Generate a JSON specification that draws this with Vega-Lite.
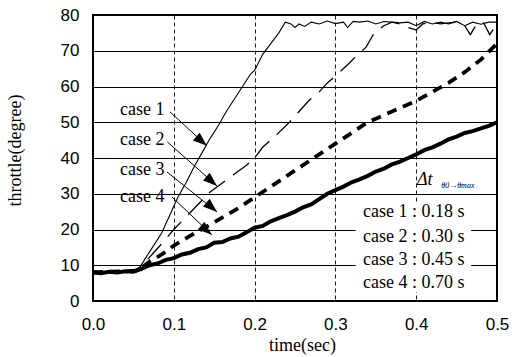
{
  "$schema": "https://vega.github.io/schema/vega-lite/v6.json",
  "width": 404,
  "height": 286,
  "autosize": {"type": "none"},
  "padding": {"left": 93, "top": 15, "right": 15, "bottom": 56},
  "background": "white",
  "config": {
    "view": {"stroke": "black", "strokeWidth": 2},
    "axis": {"labelColor": "black", "titleColor": "black", "domain": false, "ticks": false, "gridColor": "black", "gridOpacity": 1, "labelOverlap": false}
  },
  "datasets": {
    "series": [
      {"c": "case 1", "t": 0.0, "v": 8.5}, {"c": "case 1", "t": 0.01, "v": 8.0}, {"c": "case 1", "t": 0.02, "v": 8.3}, {"c": "case 1", "t": 0.03, "v": 8.0}, {"c": "case 1", "t": 0.04, "v": 8.4}, {"c": "case 1", "t": 0.05, "v": 8.5},
      {"c": "case 1", "t": 0.058, "v": 9.5}, {"c": "case 1", "t": 0.065, "v": 12}, {"c": "case 1", "t": 0.075, "v": 15.5}, {"c": "case 1", "t": 0.085, "v": 19}, {"c": "case 1", "t": 0.095, "v": 24},
      {"c": "case 1", "t": 0.105, "v": 29}, {"c": "case 1", "t": 0.115, "v": 33}, {"c": "case 1", "t": 0.125, "v": 37.5}, {"c": "case 1", "t": 0.135, "v": 41.5}, {"c": "case 1", "t": 0.145, "v": 45.5},
      {"c": "case 1", "t": 0.155, "v": 49}, {"c": "case 1", "t": 0.165, "v": 53}, {"c": "case 1", "t": 0.175, "v": 56.5}, {"c": "case 1", "t": 0.185, "v": 60}, {"c": "case 1", "t": 0.195, "v": 63.5},
      {"c": "case 1", "t": 0.2, "v": 64.5}, {"c": "case 1", "t": 0.21, "v": 69}, {"c": "case 1", "t": 0.22, "v": 72}, {"c": "case 1", "t": 0.23, "v": 75}, {"c": "case 1", "t": 0.238, "v": 78},
      {"c": "case 1", "t": 0.245, "v": 77.5}, {"c": "case 1", "t": 0.25, "v": 76.5}, {"c": "case 1", "t": 0.255, "v": 77.5}, {"c": "case 1", "t": 0.262, "v": 76.8}, {"c": "case 1", "t": 0.27, "v": 78},
      {"c": "case 1", "t": 0.28, "v": 77.5}, {"c": "case 1", "t": 0.29, "v": 78.3}, {"c": "case 1", "t": 0.3, "v": 77.6}, {"c": "case 1", "t": 0.31, "v": 78}, {"c": "case 1", "t": 0.315, "v": 76.5},
      {"c": "case 1", "t": 0.322, "v": 78.2}, {"c": "case 1", "t": 0.33, "v": 78}, {"c": "case 1", "t": 0.34, "v": 78.3}, {"c": "case 1", "t": 0.35, "v": 77.5}, {"c": "case 1", "t": 0.36, "v": 78.2},
      {"c": "case 1", "t": 0.37, "v": 78}, {"c": "case 1", "t": 0.38, "v": 77.8}, {"c": "case 1", "t": 0.39, "v": 78}, {"c": "case 1", "t": 0.4, "v": 77}, {"c": "case 1", "t": 0.41, "v": 78.2},
      {"c": "case 1", "t": 0.42, "v": 77.5}, {"c": "case 1", "t": 0.43, "v": 78}, {"c": "case 1", "t": 0.44, "v": 77.5}, {"c": "case 1", "t": 0.45, "v": 78.2}, {"c": "case 1", "t": 0.46, "v": 77},
      {"c": "case 1", "t": 0.47, "v": 78}, {"c": "case 1", "t": 0.48, "v": 77.4}, {"c": "case 1", "t": 0.49, "v": 78}, {"c": "case 1", "t": 0.5, "v": 78},

      {"c": "case 2", "t": 0.0, "v": 8}, {"c": "case 2", "t": 0.03, "v": 8.2}, {"c": "case 2", "t": 0.055, "v": 8.5}, {"c": "case 2", "t": 0.065, "v": 11}, {"c": "case 2", "t": 0.075, "v": 13.5},
      {"c": "case 2", "t": 0.085, "v": 16}, {"c": "case 2", "t": 0.1, "v": 20}, {"c": "case 2", "t": 0.115, "v": 23.5}, {"c": "case 2", "t": 0.13, "v": 27}, {"c": "case 2", "t": 0.145, "v": 30.5},
      {"c": "case 2", "t": 0.16, "v": 33}, {"c": "case 2", "t": 0.175, "v": 35.5}, {"c": "case 2", "t": 0.19, "v": 38}, {"c": "case 2", "t": 0.2, "v": 40}, {"c": "case 2", "t": 0.21, "v": 43},
      {"c": "case 2", "t": 0.225, "v": 46}, {"c": "case 2", "t": 0.243, "v": 50}, {"c": "case 2", "t": 0.255, "v": 53}, {"c": "case 2", "t": 0.267, "v": 56}, {"c": "case 2", "t": 0.28, "v": 58.5},
      {"c": "case 2", "t": 0.29, "v": 61}, {"c": "case 2", "t": 0.303, "v": 63.5}, {"c": "case 2", "t": 0.317, "v": 66.5}, {"c": "case 2", "t": 0.328, "v": 69}, {"c": "case 2", "t": 0.338, "v": 71},
      {"c": "case 2", "t": 0.348, "v": 75}, {"c": "case 2", "t": 0.36, "v": 77}, {"c": "case 2", "t": 0.37, "v": 78}, {"c": "case 2", "t": 0.38, "v": 77.5}, {"c": "case 2", "t": 0.39, "v": 76.5},
      {"c": "case 2", "t": 0.4, "v": 75.8}, {"c": "case 2", "t": 0.408, "v": 77.5}, {"c": "case 2", "t": 0.42, "v": 78}, {"c": "case 2", "t": 0.43, "v": 77.5}, {"c": "case 2", "t": 0.44, "v": 77.8},
      {"c": "case 2", "t": 0.45, "v": 78}, {"c": "case 2", "t": 0.46, "v": 77}, {"c": "case 2", "t": 0.467, "v": 74.5}, {"c": "case 2", "t": 0.475, "v": 77.5}, {"c": "case 2", "t": 0.483, "v": 78},
      {"c": "case 2", "t": 0.491, "v": 74.5}, {"c": "case 2", "t": 0.5, "v": 77.5},

      {"c": "case 3", "t": 0.0, "v": 8}, {"c": "case 3", "t": 0.055, "v": 8.5}, {"c": "case 3", "t": 0.07, "v": 11}, {"c": "case 3", "t": 0.085, "v": 13}, {"c": "case 3", "t": 0.1, "v": 15.5},
      {"c": "case 3", "t": 0.115, "v": 17.5}, {"c": "case 3", "t": 0.13, "v": 19.5}, {"c": "case 3", "t": 0.15, "v": 22}, {"c": "case 3", "t": 0.165, "v": 24}, {"c": "case 3", "t": 0.18, "v": 26},
      {"c": "case 3", "t": 0.2, "v": 29}, {"c": "case 3", "t": 0.22, "v": 32}, {"c": "case 3", "t": 0.24, "v": 35}, {"c": "case 3", "t": 0.26, "v": 38}, {"c": "case 3", "t": 0.28, "v": 41},
      {"c": "case 3", "t": 0.3, "v": 44}, {"c": "case 3", "t": 0.32, "v": 47}, {"c": "case 3", "t": 0.34, "v": 50}, {"c": "case 3", "t": 0.36, "v": 52}, {"c": "case 3", "t": 0.38, "v": 54},
      {"c": "case 3", "t": 0.4, "v": 56}, {"c": "case 3", "t": 0.42, "v": 58.5}, {"c": "case 3", "t": 0.44, "v": 61}, {"c": "case 3", "t": 0.46, "v": 64}, {"c": "case 3", "t": 0.48, "v": 67.5},
      {"c": "case 3", "t": 0.5, "v": 72},

      {"c": "case 4", "t": 0.0, "v": 8}, {"c": "case 4", "t": 0.01, "v": 7.8}, {"c": "case 4", "t": 0.02, "v": 8.2}, {"c": "case 4", "t": 0.03, "v": 8}, {"c": "case 4", "t": 0.04, "v": 8.3},
      {"c": "case 4", "t": 0.05, "v": 8.2}, {"c": "case 4", "t": 0.06, "v": 9}, {"c": "case 4", "t": 0.07, "v": 10}, {"c": "case 4", "t": 0.08, "v": 10.5}, {"c": "case 4", "t": 0.09, "v": 11.5},
      {"c": "case 4", "t": 0.1, "v": 12}, {"c": "case 4", "t": 0.11, "v": 13}, {"c": "case 4", "t": 0.12, "v": 13.5}, {"c": "case 4", "t": 0.13, "v": 14.5}, {"c": "case 4", "t": 0.14, "v": 15},
      {"c": "case 4", "t": 0.15, "v": 16.3}, {"c": "case 4", "t": 0.16, "v": 16.5}, {"c": "case 4", "t": 0.17, "v": 17.5}, {"c": "case 4", "t": 0.18, "v": 18}, {"c": "case 4", "t": 0.19, "v": 19.2},
      {"c": "case 4", "t": 0.2, "v": 20.5}, {"c": "case 4", "t": 0.21, "v": 21}, {"c": "case 4", "t": 0.22, "v": 22.3}, {"c": "case 4", "t": 0.23, "v": 23.2}, {"c": "case 4", "t": 0.24, "v": 24},
      {"c": "case 4", "t": 0.25, "v": 25}, {"c": "case 4", "t": 0.26, "v": 26.2}, {"c": "case 4", "t": 0.27, "v": 27}, {"c": "case 4", "t": 0.28, "v": 28.5}, {"c": "case 4", "t": 0.29, "v": 30},
      {"c": "case 4", "t": 0.3, "v": 31}, {"c": "case 4", "t": 0.31, "v": 32}, {"c": "case 4", "t": 0.32, "v": 33.2}, {"c": "case 4", "t": 0.33, "v": 34}, {"c": "case 4", "t": 0.34, "v": 35},
      {"c": "case 4", "t": 0.35, "v": 36.2}, {"c": "case 4", "t": 0.36, "v": 37}, {"c": "case 4", "t": 0.37, "v": 38.2}, {"c": "case 4", "t": 0.38, "v": 39}, {"c": "case 4", "t": 0.39, "v": 40},
      {"c": "case 4", "t": 0.4, "v": 41}, {"c": "case 4", "t": 0.41, "v": 42.2}, {"c": "case 4", "t": 0.42, "v": 43}, {"c": "case 4", "t": 0.43, "v": 44}, {"c": "case 4", "t": 0.44, "v": 45.2},
      {"c": "case 4", "t": 0.45, "v": 46}, {"c": "case 4", "t": 0.46, "v": 47}, {"c": "case 4", "t": 0.47, "v": 47.5}, {"c": "case 4", "t": 0.48, "v": 48.3}, {"c": "case 4", "t": 0.49, "v": 49},
      {"c": "case 4", "t": 0.5, "v": 50}
    ],
    "labels": [
      {"t": 0.061, "v": 53.4, "label": "case 1"},
      {"t": 0.061, "v": 45.0, "label": "case 2"},
      {"t": 0.061, "v": 36.6, "label": "case 3"},
      {"t": 0.061, "v": 29.1, "label": "case 4"}
    ],
    "arrows": [
      {"t": 0.0953, "v": 52.9, "t2": 0.141, "v2": 43.4},
      {"t": 0.092, "v": 44.5, "t2": 0.1535, "v2": 32.2},
      {"t": 0.0916, "v": 36.1, "t2": 0.1535, "v2": 24.9},
      {"t": 0.0978, "v": 29.1, "t2": 0.147, "v2": 18.5}
    ],
    "heads": [
      {"t": 0.141, "v": 43.4},
      {"t": 0.1535, "v": 32.2},
      {"t": 0.1535, "v": 24.9},
      {"t": 0.147, "v": 18.5}
    ],
    "box": [{"t": 0.325, "t2": 0.468, "v": 2.5, "v2": 27.5}],
    "legend": [
      {"t": 0.397, "v": 24.9, "label": "case 1 : 0.18 s"},
      {"t": 0.397, "v": 17.9, "label": "case 2 : 0.30 s"},
      {"t": 0.397, "v": 11.5, "label": "case 3 : 0.45 s"},
      {"t": 0.397, "v": 5.0, "label": "case 4 : 0.70 s"}
    ],
    "dt": [{"t": 0.401, "v": 33.8, "label": "Δt"}],
    "dtsub": [{"t": 0.431, "v": 32.2, "label": "θ0→θmax"}]
  },
  "encoding": {
    "x": {"field": "t", "type": "quantitative", "scale": {"domain": [0, 0.5], "nice": false, "zero": false},
      "axis": {"title": "time(sec)", "values": [0, 0.1, 0.2, 0.3, 0.4, 0.5], "tickCount": 12, "format": ".1f",
        "labelFont": "Liberation Sans", "labelFontSize": 17, "labelPadding": 15, "labelFlush": false,
        "grid": true, "gridDash": [4, 3], "gridWidth": 0.9,
        "titleFont": "Liberation Serif", "titleFontSize": 18, "titleFontWeight": "normal",
        "titleX": 209, "titleY": 44, "titleBaseline": "middle"}},
    "y": {"field": "v", "type": "quantitative", "scale": {"domain": [0, 80], "nice": false, "zero": false},
      "axis": {"title": "throttle(degree)", "values": [0, 10, 20, 30, 40, 50, 60, 70, 80], "tickCount": 12, "labelOverlap": false,
        "labelFont": "Liberation Sans", "labelFontSize": 17, "labelPadding": 14, "labelFlush": false,
        "grid": true, "gridWidth": 1.2,
        "titleFont": "Liberation Serif", "titleFontSize": 18, "titleFontWeight": "normal",
        "titleX": -78, "titleY": 135, "titleAngle": -90, "titleAlign": "center", "titleBaseline": "middle"}}
  },
  "layer": [
    {
      "data": {"name": "series"},
      "transform": [{"filter": "datum.c === 'case 1'"}],
      "mark": {"type": "line", "color": "black", "strokeWidth": 1.1}
    },
    {
      "data": {"name": "series"},
      "transform": [{"filter": "datum.c === 'case 2'"}],
      "mark": {"type": "line", "color": "black", "strokeWidth": 1.3, "strokeDash": [20, 10]}
    },
    {
      "data": {"name": "series"},
      "transform": [{"filter": "datum.c === 'case 3'"}],
      "mark": {"type": "line", "color": "black", "strokeWidth": 3.8, "strokeDash": [10, 7]}
    },
    {
      "data": {"name": "series"},
      "transform": [{"filter": "datum.c === 'case 4'"}],
      "mark": {"type": "line", "color": "black", "strokeWidth": 4}
    },
    {
      "data": {"name": "box"},
      "mark": {"type": "rect", "color": "white"},
      "encoding": {"x2": {"field": "t2"}, "y2": {"field": "v2"}}
    },
    {
      "data": {"name": "arrows"},
      "mark": {"type": "rule", "color": "black", "strokeWidth": 1},
      "encoding": {"x2": {"field": "t2"}, "y2": {"field": "v2"}}
    },
    {
      "data": {"name": "heads"},
      "mark": {"type": "point", "shape": "M0,0L-0.36,1L0.36,1Z", "filled": true, "color": "black", "opacity": 1, "size": 800, "angle": 131}
    },
    {
      "data": {"name": "labels"},
      "mark": {"type": "text", "font": "Liberation Serif", "fontSize": 18, "color": "black", "align": "center", "baseline": "middle"},
      "encoding": {"text": {"field": "label"}}
    },
    {
      "data": {"name": "legend"},
      "mark": {"type": "text", "font": "Liberation Serif", "fontSize": 18, "color": "black", "align": "center", "baseline": "middle"},
      "encoding": {"text": {"field": "label"}}
    },
    {
      "data": {"name": "dt"},
      "mark": {"type": "text", "font": "Liberation Serif", "fontSize": 18, "fontStyle": "italic", "color": "black", "align": "left", "baseline": "middle"},
      "encoding": {"text": {"field": "label"}}
    },
    {
      "data": {"name": "dtsub"},
      "mark": {"type": "text", "font": "Liberation Serif", "fontSize": 8, "fontStyle": "italic", "color": "black", "align": "left", "baseline": "middle"},
      "encoding": {"text": {"field": "label"}}
    }
  ]
}
